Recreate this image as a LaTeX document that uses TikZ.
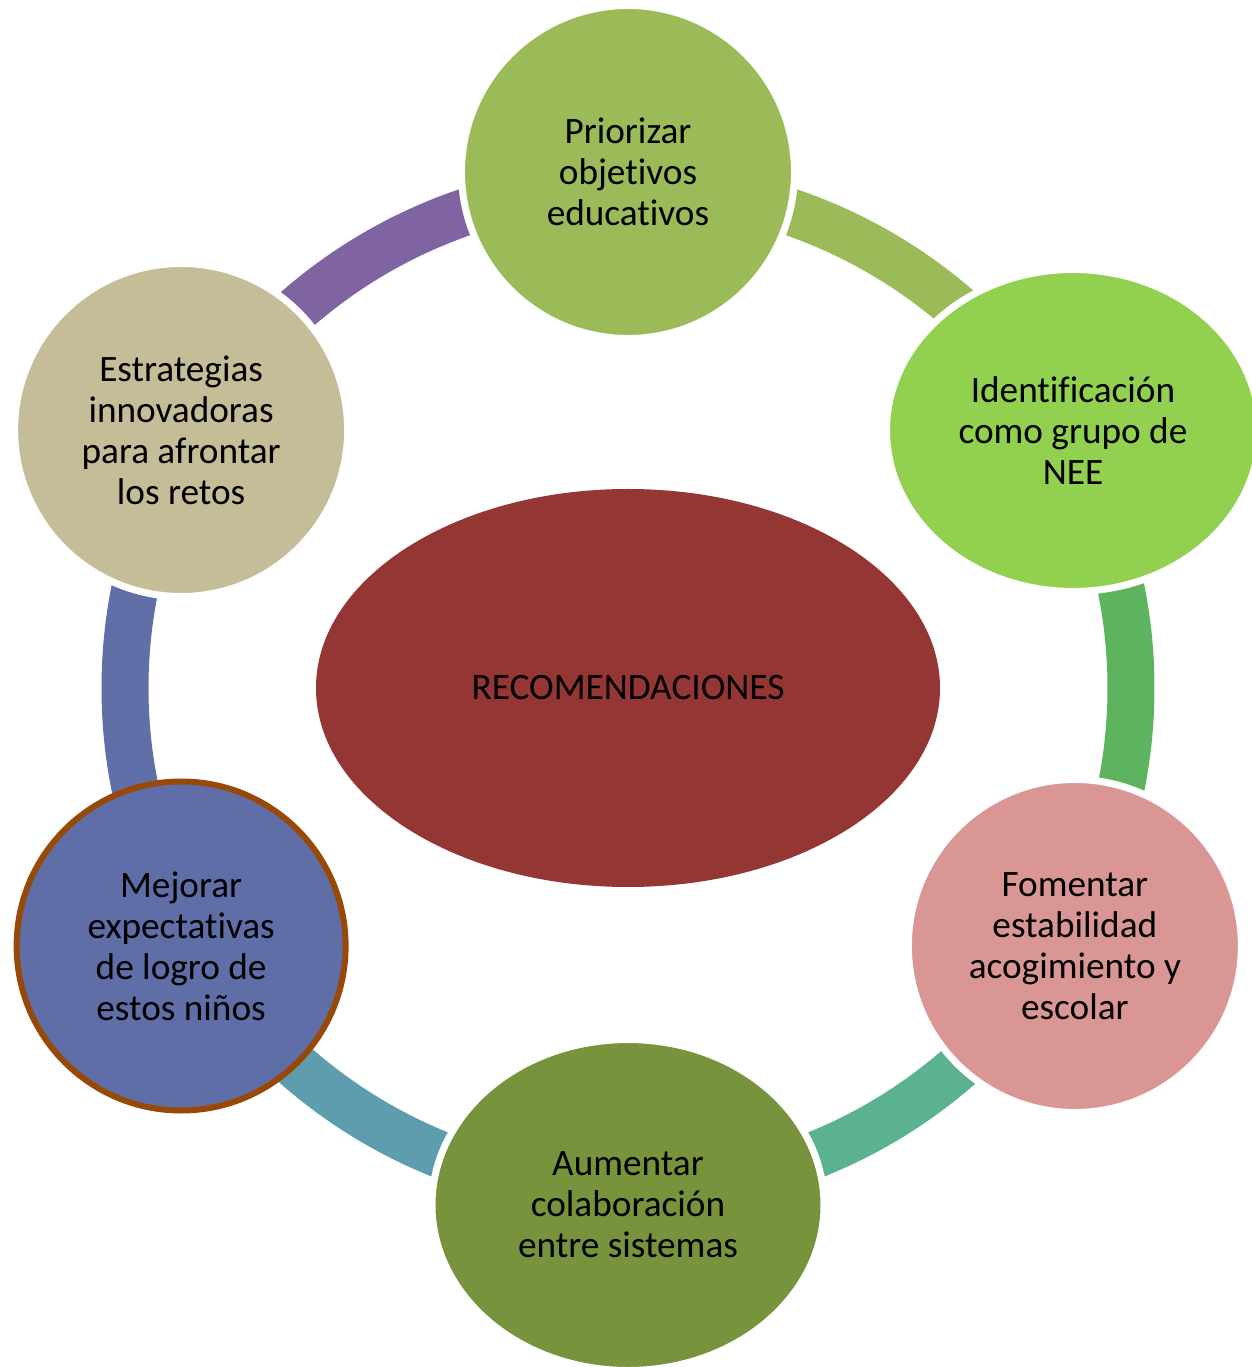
\documentclass[tikz,border=0pt]{standalone}
\usepackage{fontspec}
\setmainfont{Carlito}[Ligatures={NoCommon,NoRequired,NoContextual,NoRare}, Contextuals=NoAlternate]
\usetikzlibrary{shapes.geometric}
\definecolor{centrered}{HTML}{943634}
\definecolor{olivegreen}{HTML}{9BBB59}
\definecolor{limegreen}{HTML}{92D050}
\definecolor{rosepink}{HTML}{D99694}
\definecolor{mossgreen}{HTML}{77933C}
\definecolor{slateblue}{HTML}{606EA8}
\definecolor{sandtan}{HTML}{C4BD97}
\definecolor{rustbrown}{HTML}{984807}
\definecolor{ringpurple}{HTML}{8064A2}
\definecolor{ringgreen}{HTML}{5EB35E}
\definecolor{ringsea}{HTML}{5BB28F}
\definecolor{ringteal}{HTML}{5E9DAD}
\definecolor{ringblue}{HTML}{606FA8}

\begin{document}
\begin{tikzpicture}[
    font=\fontsize{21.2}{23.3}\selectfont,
    seg/.style={line width=0.94cm},
    item/.style={
        circle, minimum size=6.66cm, inner sep=0pt,
        align=center, draw=white, line width=0.14cm
    },
    oval/.style={
        ellipse, inner sep=0pt,
        align=center, draw=white, line width=0.14cm
    }
]
\useasboundingbox (-12.56,-13.58) rectangle (12.48,13.76);

% Centre
\node[ellipse, fill=centrered, inner sep=0pt,
      minimum width=12.48cm, minimum height=7.96cm] (C) at (0,0) {RECOMENDACIONES};

% Ring segments
\draw[seg, ringpurple] ([shift={(150:10.06)}]C.center) arc[start angle=150, end angle=90, radius=10.06];
\draw[seg, olivegreen] ([shift={(90:10.06)}]C.center) arc[start angle=90, end angle=30, radius=10.06];
\draw[seg, ringgreen]  ([shift={(30:10.06)}]C.center) arc[start angle=30, end angle=-30, radius=10.06];
\draw[seg, ringsea]    ([shift={(-30:10.06)}]C.center) arc[start angle=-30, end angle=-90, radius=10.06];
\draw[seg, ringteal]   ([shift={(-90:10.06)}]C.center) arc[start angle=-90, end angle=-150, radius=10.06];
\draw[seg, ringblue]   ([shift={(210:10.06)}]C.center) arc[start angle=210, end angle=150, radius=10.06];

% Items round the ring
\node[item, fill=olivegreen] (P) at (90:10.32) {Priorizar\\objetivos\\educativos};
\node[oval, fill=limegreen, minimum width=7.46cm, minimum height=6.44cm]
    (I) at (8.9,5.15) {Identificación\\como grupo de\\NEE};
\node[item, fill=rosepink] (F) at (-30:10.32) {Fomentar\\estabilidad\\acogimiento y\\escolar};
\node[oval, fill=mossgreen, minimum width=7.84cm, minimum height=6.62cm]
    (A) at (-90:10.34) {Aumentar\\colaboración\\entre sistemas};
\node[item, fill=slateblue, draw=rustbrown, line width=0.12cm, minimum size=6.58cm]
    (M) at (210:10.32) {Mejorar\\expectativas\\de logro de\\estos niños};
\node[item, fill=sandtan] (E) at (150:10.32) {Estrategias\\innovadoras\\para afrontar\\los retos};

\end{tikzpicture}
\end{document}
